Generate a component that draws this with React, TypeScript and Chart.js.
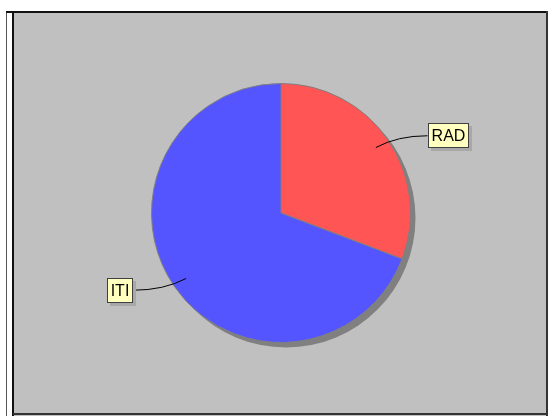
import React, { useEffect, useRef } from "react";
import { Chart, registerables } from "chart.js";

Chart.register(...registerables);

const categories = ["RAD", "ITI"];
const values = [4, 9];
const colors = ["#FF5555", "#5555FF"];

export default function App() {
  const ref = useRef<HTMLCanvasElement | null>(null);

  useEffect(() => {
    if (!ref.current) return;

    const background = {
      id: "bg",
      beforeDraw(chart: any) {
        const c = chart.ctx;
        const W = chart.width;
        const H = chart.height;
        c.save();
        c.fillStyle = "#FFFFFF";
        c.fillRect(0, 0, W, H);
        c.fillStyle = "#C0C0C0";
        c.fillRect(13, 11, W - 13, H - 11);
        c.strokeStyle = "#555555";
        c.lineWidth = 1;
        c.beginPath();
        c.moveTo(6.5, 11);
        c.lineTo(6.5, H);
        c.stroke();
        c.strokeStyle = "#111111";
        c.lineWidth = 2;
        c.beginPath();
        c.moveTo(6, 12);
        c.lineTo(W, 12);
        c.stroke();
        c.beginPath();
        c.moveTo(13, 11);
        c.lineTo(13, H);
        c.stroke();
        c.strokeStyle = "#333333";
        c.lineWidth = 2;
        c.beginPath();
        c.moveTo(13, H - 2);
        c.lineTo(W, H - 2);
        c.moveTo(W - 1, 11);
        c.lineTo(W - 1, H);
        c.stroke();
        c.restore();
      },
    };

    const shadow = {
      id: "pieShadow",
      beforeDatasetsDraw(chart: any) {
        const meta = chart.getDatasetMeta(0);
        const a = meta.data[0];
        if (!a) return;
        const c = chart.ctx;
        c.save();
        c.fillStyle = "#808080";
        c.beginPath();
        c.arc(a.x + 5, a.y + 5, a.outerRadius, 0, Math.PI * 2);
        c.fill();
        c.restore();
      },
    };

    const labels = {
      id: "pieLabels",
      afterDatasetsDraw(chart: any) {
        const meta = chart.getDatasetMeta(0);
        const c = chart.ctx;
        c.save();
        c.font = "16px 'Liberation Sans', Arial, sans-serif";
        meta.data.forEach((arc: any, i: number) => {
          const cx = arc.x;
          const cy = arc.y;
          const r = arc.outerRadius;
          const mid = (arc.startAngle + arc.endAngle) / 2;
          const side = Math.cos(mid) >= 0 ? 1 : -1;
          const sx = cx + Math.cos(mid) * r * 0.89;
          const sy = cy + Math.sin(mid) * r * 0.89;
          const ex = cx + side * (r + (side > 0 ? 17 : 18.5));
          const ey = cy + Math.sin(mid) * r * 1.05;
          c.strokeStyle = "#000000";
          c.lineWidth = 1;
          c.beginPath();
          c.moveTo(sx, sy);
          c.quadraticCurveTo(sx + (ex - sx) * 0.42, ey, ex, ey);
          c.stroke();
          const text = categories[i];
          const tw = c.measureText(text).width;
          const bw = Math.round(tw + 7);
          const bh = 25;
          const bx = side > 0 ? Math.round(ex) : Math.round(ex - bw);
          const by = Math.round(ey - bh / 2);
          c.fillStyle = "#A8A8A8";
          c.fillRect(bx + 3, by + 3, bw, bh);
          c.fillStyle = "#FFFFC0";
          c.fillRect(bx, by, bw, bh);
          c.strokeStyle = "#404040";
          c.strokeRect(bx + 0.5, by + 0.5, bw - 1, bh - 1);
          c.fillStyle = "#000000";
          c.textAlign = "center";
          c.textBaseline = "middle";
          c.fillText(text, bx + bw / 2, by + bh / 2 + 1);
        });
        c.restore();
      },
    };

    const chart = new Chart(ref.current, {
      type: "pie",
      data: {
        labels: categories,
        datasets: [
          {
            data: values,
            backgroundColor: colors,
            borderColor: "#808080",
            borderWidth: 1,
            hoverOffset: 0,
          },
        ],
      },
      options: {
        responsive: false,
        animation: false,
        events: [],
        layout: { padding: { left: 151, right: 137, top: 83, bottom: 73 } },
        plugins: { legend: { display: false }, tooltip: { enabled: false } },
      },
      plugins: [background, shadow, labels],
    });
    return () => chart.destroy();
  }, []);

  return (
    <div style={{ position: "fixed", left: 0, top: 0, width: 548, height: 416 }}>
      <canvas ref={ref} width={548} height={416} style={{ display: "block" }} />
    </div>
  );
}
